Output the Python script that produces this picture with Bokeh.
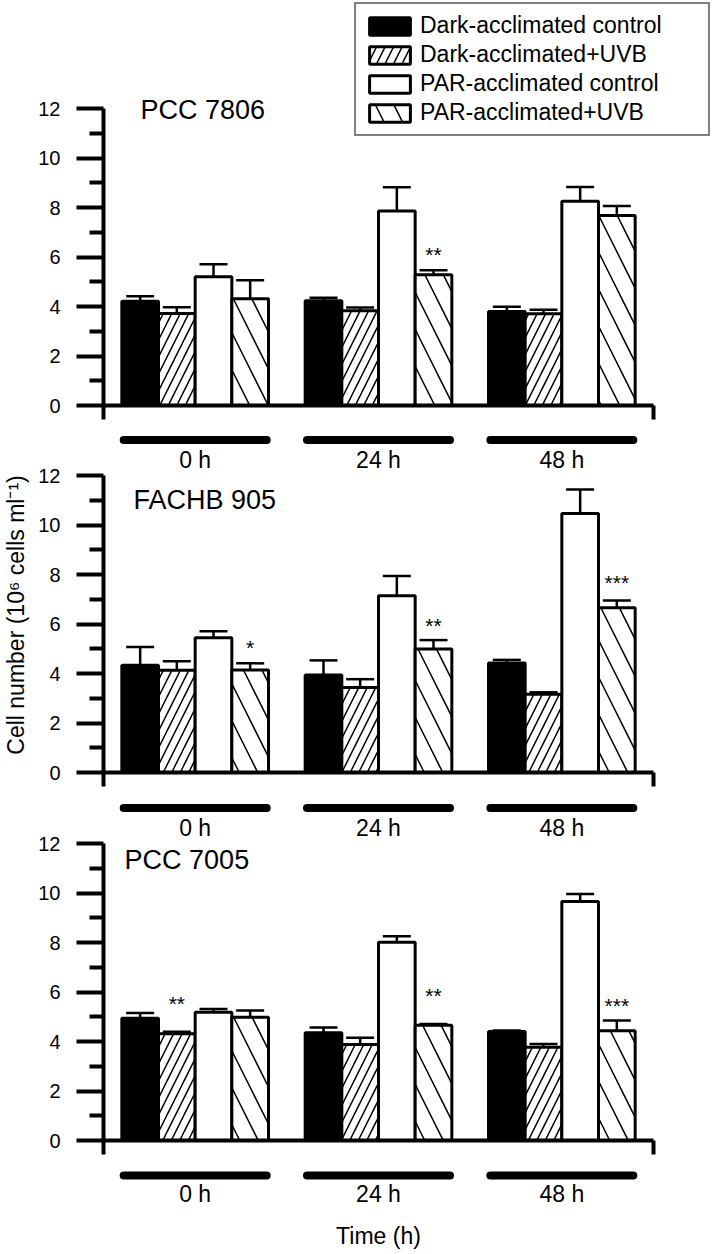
import numpy as np
from bokeh.plotting import figure
from bokeh.models import (Range1d, FixedTicker, ColumnDataSource, Whisker,
                          TeeHead, Legend, LegendItem)
from bokeh.layouts import column
from bokeh.embed import file_html
from bokeh.resources import INLINE
from bokeh.core.properties import value

# ---------------- data ----------------
time_labels = ["0 h", "24 h", "48 h"]
series_names = ["Dark-acclimated control", "Dark-acclimated+UVB",
                "PAR-acclimated control", "PAR-acclimated+UVB"]
strain_names = ["PCC 7806", "FACHB 905", "PCC 7005"]
y_ticks = [0, 2, 4, 6, 8, 10, 12]
y_minor_ticks = [1, 3, 5, 7, 9, 11]

# PCC 7806 (means, 10^6 cells/ml) and error bars
pcc7806_dark_ctrl = [4.21, 4.23, 3.80]
pcc7806_dark_uvb = [3.72, 3.83, 3.71]
pcc7806_par_ctrl = [5.20, 7.86, 8.25]
pcc7806_par_uvb = [4.31, 5.28, 7.68]
pcc7806_dark_ctrl_err = [0.20, 0.12, 0.19]
pcc7806_dark_uvb_err = [0.25, 0.13, 0.16]
pcc7806_par_ctrl_err = [0.51, 0.96, 0.58]
pcc7806_par_uvb_err = [0.75, 0.18, 0.38]

# FACHB 905
fachb905_dark_ctrl = [4.33, 3.94, 4.42]
fachb905_dark_uvb = [4.13, 3.43, 3.16]
fachb905_par_ctrl = [5.44, 7.14, 10.46]
fachb905_par_uvb = [4.14, 4.99, 6.66]
fachb905_dark_ctrl_err = [0.74, 0.59, 0.13]
fachb905_dark_uvb_err = [0.36, 0.34, 0.08]
fachb905_par_ctrl_err = [0.27, 0.80, 0.97]
fachb905_par_uvb_err = [0.27, 0.36, 0.29]

# PCC 7005
pcc7005_dark_ctrl = [4.94, 4.35, 4.40]
pcc7005_dark_uvb = [4.31, 3.88, 3.77]
pcc7005_par_ctrl = [5.18, 8.01, 9.66]
pcc7005_par_uvb = [4.98, 4.66, 4.43]
pcc7005_dark_ctrl_err = [0.21, 0.22, 0.04]
pcc7005_dark_uvb_err = [0.08, 0.27, 0.13]
pcc7005_par_ctrl_err = [0.13, 0.24, 0.30]
pcc7005_par_uvb_err = [0.27, 0.05, 0.42]

# significance marks: (time index, series index, text, height)
pcc7806_stars = [(1, 3, "**", 6.29)]
fachb905_stars = [(0, 3, "*", 5.24), (1, 3, "**", 6.13), (2, 3, "***", 7.88)]
pcc7005_stars = [(0, 1, "**", 5.72), (1, 3, "**", 6.08), (2, 3, "***", 5.65)]

means = [
    [pcc7806_dark_ctrl, pcc7806_dark_uvb, pcc7806_par_ctrl, pcc7806_par_uvb],
    [fachb905_dark_ctrl, fachb905_dark_uvb, fachb905_par_ctrl, fachb905_par_uvb],
    [pcc7005_dark_ctrl, pcc7005_dark_uvb, pcc7005_par_ctrl, pcc7005_par_uvb],
]
errors = [
    [pcc7806_dark_ctrl_err, pcc7806_dark_uvb_err, pcc7806_par_ctrl_err, pcc7806_par_uvb_err],
    [fachb905_dark_ctrl_err, fachb905_dark_uvb_err, fachb905_par_ctrl_err, fachb905_par_uvb_err],
    [pcc7005_dark_ctrl_err, pcc7005_dark_uvb_err, pcc7005_par_ctrl_err, pcc7005_par_uvb_err],
]
stars = [pcc7806_stars, fachb905_stars, pcc7005_stars]

# ---------------- layout / style ----------------
FONT = value("Liberation Sans")
PX_X = 550 / 3.0       # pixels per x unit
PX_Y = 297 / 12.0      # pixels per y unit
LEFT = 103
W = 712
FRAME_W = W - LEFT
BOTTOM = 20
x_range = Range1d(-0.5, -0.5 + FRAME_W / PX_X)
groups = np.arange(len(time_labels), dtype=float)
offsets = [-0.3, -0.1, 0.1, 0.3]
BAR_W = 0.2
fills = ["black", "white", "white", "white"]
hatches = [" ", "right_diagonal_line", " ", "left_diagonal_line"]
hatch_scales = [12, 17, 12, 37]
title_pos = [(-0.298, 11.92), (-0.336, 11.03), (-0.385, 11.35)]
frame_heights = [405, 347, 348]
STRIP_LINE = 13.43     # y of group bar of the panel above (in next panel units)
STRIP_LABEL = 12.63
NBSP = "\u00a0"


def add_strip(p, y_line, y_label):
    p.segment(x0=groups - 0.39, x1=groups + 0.39, y0=[y_line] * 3, y1=[y_line] * 3,
              line_width=8, line_color="black", line_cap="round")
    p.text(x=groups, y=[y_label] * 3, text=time_labels, text_font=FONT,
           text_font_size=value("23px"), text_align="center",
           text_baseline="middle", text_color="black")


def panel(i, strip_above, legend=False, ylabel=None):
    fh = frame_heights[i]
    p = figure(width=W, height=fh + BOTTOM, x_range=x_range,
               y_range=Range1d(0, fh / PX_Y), output_backend="svg",
               toolbar_location=None, min_border_left=LEFT, min_border_right=0,
               min_border_top=0, min_border_bottom=BOTTOM)
    p.outline_line_color = None
    p.grid.visible = False
    p.background_fill_color = "white"
    p.border_fill_color = "white"

    renderers = []
    for k in range(4):
        xs = groups + offsets[k]
        m = np.array(means[i][k])
        e = np.array(errors[i][k])
        r = p.vbar(x=xs, top=m, bottom=0, width=BAR_W, fill_color=fills[k],
                   line_color="black", line_width=3, hatch_pattern=hatches[k],
                   hatch_scale=hatch_scales[k], hatch_weight=1.5, hatch_color="black")
        renderers.append(r)
        src = ColumnDataSource(dict(x=xs, upper=m + e, lower=m - e))
        wh = Whisker(source=src, base="x", upper="upper", lower="lower",
                     line_width=2.5, line_color="black",
                     upper_head=TeeHead(size=28, line_width=2.5, line_color="black"),
                     lower_head=TeeHead(size=28, line_width=2.5, line_color="black"))
        p.add_layout(wh)

    sx = [groups[g] + offsets[k] for g, k, _, _ in stars[i]]
    sy = [h - 5 / PX_Y for _, _, _, h in stars[i]]
    st = [t for _, _, t, _ in stars[i]]
    p.text(x=sx, y=sy, text=st, text_font=FONT, text_font_size=value("21px"),
           text_align="center", text_baseline="middle", text_color="black")

    tx, ty = title_pos[i]
    p.text(x=[tx], y=[ty], text=[strain_names[i]], text_font=FONT,
           text_font_size=value("27px"), text_align="left",
           text_baseline="middle", text_color="black")

    if strip_above:
        add_strip(p, STRIP_LINE, STRIP_LABEL)

    # y axis
    yax = p.yaxis[0]
    yax.ticker = FixedTicker(ticks=y_ticks, minor_ticks=y_minor_ticks)
    yax.bounds = (0, 12)
    yax.axis_line_width = 4
    yax.major_tick_line_width = 4
    yax.minor_tick_line_width = 4
    yax.major_tick_out = 27
    yax.major_tick_in = 0
    yax.minor_tick_out = 14
    yax.minor_tick_in = 0
    yax.major_label_text_font = "Liberation Sans"
    yax.major_label_text_font_size = "20px"
    yax.major_label_text_color = "black"
    yax.major_label_standoff = 16
    if ylabel:
        yax.axis_label = ylabel
        yax.axis_label_text_font = "Liberation Sans"
        yax.axis_label_text_font_size = "23px"
        yax.axis_label_text_font_style = "normal"
        yax.axis_label_text_color = "black"
        yax.axis_label_standoff = 6

    # x axis: plain rule with end ticks
    xax = p.xaxis[0]
    xax.ticker = FixedTicker(ticks=[-0.5, 2.5])
    xax.bounds = (-0.5, 2.5)
    xax.axis_line_width = 4
    xax.major_tick_line_width = 4
    xax.major_tick_out = 14
    xax.major_tick_in = 0
    xax.minor_tick_line_color = None
    xax.major_label_text_font_size = "1px"
    xax.major_label_text_color = None
    xax.major_label_standoff = 0

    if legend:
        items = [LegendItem(label=series_names[k], renderers=[renderers[k]])
                 for k in range(4)]
        leg = Legend(items=items, location="top_right", margin=2, padding=8,
                     spacing=2, glyph_width=51, glyph_height=22, label_standoff=5,
                     label_width=280, label_text_font="Liberation Sans",
                     label_text_font_size="23px", label_text_color="black",
                     border_line_color="black", border_line_width=2,
                     background_fill_color="white", background_fill_alpha=1.0)
        p.add_layout(leg)
    return p


p1 = panel(0, strip_above=False, legend=True)
p2 = panel(1, strip_above=True,
           ylabel="Cell number (10\u2076 cells ml\u207b\u00b9)" + NBSP * 5)
p3 = panel(2, strip_above=True)

# bottom strip with last group bars and the time axis title
p4 = figure(width=W, height=92, x_range=x_range, y_range=Range1d(0, 92),
            output_backend="svg", toolbar_location=None, x_axis_type=None,
            y_axis_type=None, min_border_left=LEFT, min_border_right=0,
            min_border_top=0, min_border_bottom=0)
p4.outline_line_color = None
p4.grid.visible = False
add_strip(p4, 77, 59)
p4.text(x=[float(np.mean(groups))], y=[17], text=["Time (h)"], text_font=FONT,
        text_font_size=value("23px"), text_align="center", text_baseline="middle",
        text_color="black")

layout = column(p1, p2, p3, p4, spacing=0)
open("out.html", "w").write(file_html(layout, INLINE))
